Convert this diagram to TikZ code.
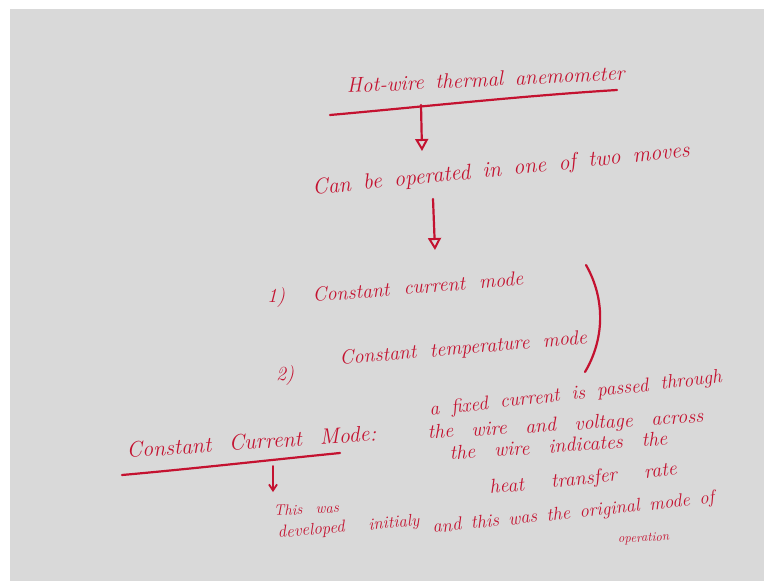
\documentclass[tikz,border=0pt]{standalone}
\usetikzlibrary{arrows.meta}
\definecolor{pen}{RGB}{196,18,48}
\definecolor{board}{RGB}{217,217,217}
\newcommand{\hwtext}[3]{{\fontsize{#1}{#1}\selectfont\itshape\makebox[#2pt][s]{#3}}}
\tikzset{
  hw/.style={anchor=base west, inner sep=0pt, text=pen},
  stroke/.style={draw=pen, line width=2.2pt, line cap=round},
  openarrow/.style={stroke, -{Triangle[open,width=13pt,length=12pt,line width=2pt]}},
  vee/.style={stroke, line width=1.8pt, -{Straight Barb[width=8pt,length=6pt]}}
}
\begin{document}
\begin{tikzpicture}[x=1pt,y=-1pt]
\useasboundingbox (0,0) rectangle (764,581);
\fill[white] (0,0) rectangle (764,581);
\fill[board] (10,9) rectangle (764,581);
% title
\node[hw, rotate=2.7] (title) at (347,93) {\hwtext{21}{278}{Hot-wire thermal anemometer}};
\draw[stroke] (330,115) .. controls (420,107) and (520,96) .. (617,90);
\coordinate (u1) at (421,105);
\coordinate (a1) at (422,151);
\draw[openarrow] (u1) -- (a1);
% modes
\node[hw, rotate=5.8] (can) at (313,195) {\hwtext{22}{379}{Can be operated in one of two moves}};
\coordinate (s2) at (433,199);
\coordinate (a2) at (435,250);
\draw[openarrow] (s2) -- (a2);
\node[hw] (n1) at (267,302) {\hwtext{20}{16}{1)}};
\node[hw, rotate=4.6] (m1) at (313,302) {\hwtext{20}{211}{Constant current mode}};
\node[hw] (n2) at (276,380) {\hwtext{20}{16}{2)}};
\node[hw, rotate=5] (m2) at (340,365) {\hwtext{20}{248}{Constant temperature mode}};
\draw[stroke] (586,265) .. controls (606,300) and (604,340) .. (585,372);
% constant current mode
\node[hw, rotate=4] (ccm) at (127,458) {\hwtext{22}{250}{Constant Current Mode:}};
\draw[stroke] (122,475) .. controls (190,469) and (270,460) .. (340,453);
\coordinate (u3) at (273,466);
\coordinate (a3) at (273,492);
\draw[vee] (u3) -- (a3);
\node[hw, rotate=3] (this) at (274,516) {\hwtext{15}{65}{This was}};
\node[hw, rotate=5] (dev) at (278,538) {\hwtext{17}{142}{developed initialy}};
% description
\node[hw, rotate=6.5] (d1) at (430,416) {\hwtext{19.5}{294}{a fixed current is passed through}};
\node[hw, rotate=3.5] (d2) at (428,439) {\hwtext{20}{276}{the wire and voltage across}};
\node[hw, rotate=4] (d3) at (450,460) {\hwtext{20}{218}{the wire indicates the}};
\node[hw, rotate=5.8] (d4) at (490,494) {\hwtext{20}{188}{heat transfer rate}};
\node[hw, rotate=6] (d5) at (433,533) {\hwtext{18.5}{283}{and this was the original mode of}};
\node[hw, rotate=3] (d6) at (618,543) {\hwtext{13}{60}{operation}};
\end{tikzpicture}
\end{document}
